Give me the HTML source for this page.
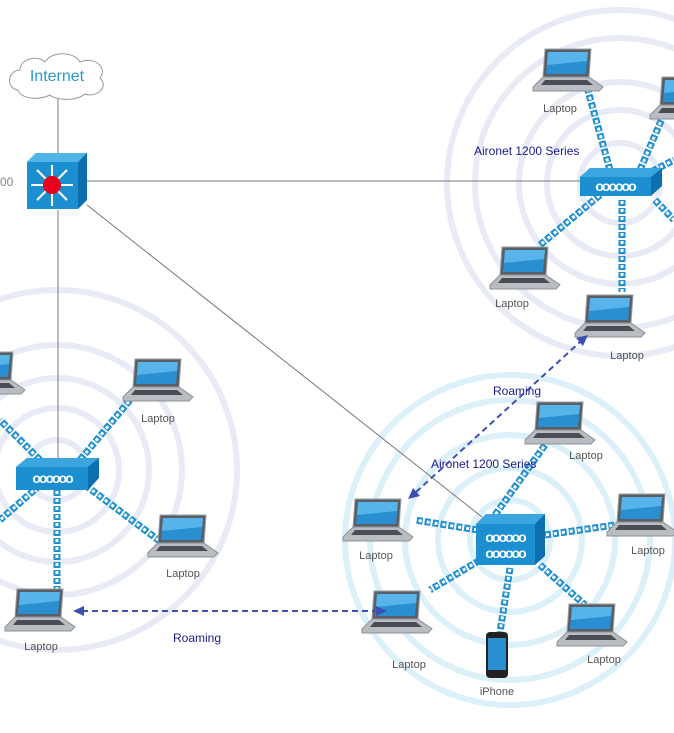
<!DOCTYPE html>
<html><head><meta charset="utf-8"><style>
html,body{margin:0;padding:0;background:#fff;}
svg{display:block;}
text{font-family:"Liberation Sans",sans-serif;}
</style></head><body>
<svg width="674" height="733" viewBox="0 0 674 733" xmlns="http://www.w3.org/2000/svg">
<defs>
<g id="lap">
 <path d="M12 2 L58 2 L56 30 L10 30 Z" fill="#5a5f66" stroke="#9aa0a6" stroke-width="1"/>
 <path d="M15 5 L55 5 L53 27 L13 27 Z" fill="#2a8fd0"/>
 <path d="M15 5 L55 5 L54 14 L14 18 Z" fill="#56b4ea"/>
 <path d="M10 30 L56 30 L70 40 L66 44 L0 44 L0 40 Z" fill="#b9bdc2" stroke="#8d9197" stroke-width="1"/>
 <path d="M12 33 L54 33 L60 38 L8 38 Z" fill="#4a4e54"/>
</g>
<g id="phone">
 <rect x="0" y="0" width="22" height="46" rx="4" fill="#222"/>
 <rect x="2" y="6" width="18" height="32" fill="#2a8fd0"/>
</g>
</defs>

<g fill="none" stroke="#e8ebf6" stroke-width="6">
 <circle cx="620" cy="183" r="40"/><circle cx="620" cy="183" r="73"/><circle cx="620" cy="183" r="101"/><circle cx="620" cy="183" r="145"/><circle cx="620" cy="183" r="173"/>
 <circle cx="57" cy="470" r="30"/><circle cx="57" cy="470" r="62"/><circle cx="57" cy="470" r="92"/><circle cx="57" cy="470" r="125"/><circle cx="57" cy="470" r="180"/>
</g>
<g fill="none" stroke="#dcf0fa" stroke-width="6">
 <circle cx="510" cy="540" r="40"/><circle cx="510" cy="540" r="72"/><circle cx="510" cy="540" r="105"/><circle cx="510" cy="540" r="140"/><circle cx="510" cy="540" r="165"/>
</g>

<g stroke="#777" stroke-width="1">
 <line x1="58" y1="95" x2="58" y2="155"/>
 <line x1="87" y1="181" x2="582" y2="181"/>
 <line x1="58" y1="210" x2="58" y2="460"/>
 <line x1="87" y1="205" x2="482" y2="517"/>
</g>

<g fill="none">
 <g stroke="#1e8fd0" stroke-width="7" stroke-dasharray="6 2">
  <path d="M610 170 L585 80 M640 170 L670 100 M600 195 L540 245 M622 200 L622 292 M655 200 L674 220 M645 175 L674 160"/>
  <path d="M40 460 L0 420 M80 460 L130 400 M40 485 L0 520 M85 485 L165 545 M57 490 L57 590"/>
  <path d="M495 515 L545 445 M478 530 L415 520 M545 535 L615 525 M480 560 L430 590 M510 568 L500 632 M540 565 L585 605"/>
 </g>
 <g stroke="#fff" stroke-width="3" stroke-dasharray="3 5" stroke-dashoffset="-1">
  <path d="M610 170 L585 80 M640 170 L670 100 M600 195 L540 245 M622 200 L622 292 M655 200 L674 220 M645 175 L674 160"/>
  <path d="M40 460 L0 420 M80 460 L130 400 M40 485 L0 520 M85 485 L165 545 M57 490 L57 590"/>
  <path d="M495 515 L545 445 M478 530 L415 520 M545 535 L615 525 M480 560 L430 590 M510 568 L500 632 M540 565 L585 605"/>
 </g>
</g>

<path d="M18 90 C5 88 8 70 20 70 C20 58 38 55 45 62 C52 50 75 52 80 62 C95 56 108 68 100 78 C110 88 95 98 85 94 C75 102 55 100 50 95 C40 100 22 100 18 90 Z" fill="#fff" stroke="#999" stroke-width="1"/>
<text x="57" y="81" font-size="16" fill="#2b9ac9" text-anchor="middle">Internet</text>

<path d="M27 162 L36 153 L87 153 L87 200 L78 209 L27 209 Z" fill="#0d6fae"/>
<rect x="27" y="162" width="51" height="47" fill="#1b8fd0"/>
<path d="M27 162 L36 153 L87 153 L78 162 Z" fill="#4fb4e6"/>
<g stroke="#fff" stroke-width="2">
 <line x1="52" y1="165" x2="52" y2="206"/><line x1="31" y1="185" x2="73" y2="185"/>
 <line x1="37" y1="170" x2="67" y2="200"/><line x1="67" y1="170" x2="37" y2="200"/>
</g>
<circle cx="52" cy="185" r="9" fill="#e8001c"/>
<text x="0" y="186" font-size="12" fill="#888">00</text>

<g>
 <path d="M580 177 L590 168 L662 168 L662 186 L651 196 L580 196 Z" fill="#0d6fae"/>
 <rect x="580" y="177" width="71" height="19" fill="#1b8fd0"/>
 <path d="M580 177 L590 168 L662 168 L651 177 Z" fill="#3aa5de"/>
 <text x="615" y="191" font-size="14" fill="#fff" text-anchor="middle" font-weight="bold" letter-spacing="-2">oooooo</text>
</g>
<g>
 <path d="M16 467 L27 458 L99 458 L99 478 L88 490 L16 490 Z" fill="#0d6fae"/>
 <rect x="16" y="467" width="72" height="23" fill="#1b8fd0"/>
 <path d="M16 467 L27 458 L99 458 L88 467 Z" fill="#3aa5de"/>
 <text x="52" y="483" font-size="14" fill="#fff" text-anchor="middle" font-weight="bold" letter-spacing="-2">oooooo</text>
</g>
<g>
 <path d="M476 524 L486 514 L545 514 L545 556 L535 565 L476 565 Z" fill="#0d6fae"/>
 <rect x="476" y="524" width="59" height="41" fill="#1b8fd0"/>
 <path d="M476 524 L486 514 L545 514 L535 524 Z" fill="#3aa5de"/>
 <text x="505" y="542" font-size="14" fill="#fff" text-anchor="middle" font-weight="bold" letter-spacing="-2">oooooo</text>
 <text x="505" y="558" font-size="14" fill="#fff" text-anchor="middle" font-weight="bold" letter-spacing="-2">oooooo</text>
</g>

<use href="#lap" x="533" y="47"/>
<use href="#lap" x="650" y="75"/>
<use href="#lap" x="490" y="245"/>
<use href="#lap" x="575" y="293"/>
<use href="#lap" x="123" y="357"/>
<use href="#lap" x="148" y="513"/>
<use href="#lap" x="5" y="587"/>
<use href="#lap" x="-45" y="350"/>
<use href="#lap" x="525" y="400"/>
<use href="#lap" x="343" y="497"/>
<use href="#lap" x="607" y="492"/>
<use href="#lap" x="362" y="589"/>
<use href="#lap" x="557" y="602"/>
<use href="#phone" x="486" y="632"/>

<g font-size="11" fill="#555" text-anchor="middle">
 <text x="560" y="112">Laptop</text>
 <text x="512" y="307">Laptop</text>
 <text x="627" y="359">Laptop</text>
 <text x="158" y="422">Laptop</text>
 <text x="183" y="577">Laptop</text>
 <text x="41" y="650">Laptop</text>
 <text x="586" y="459">Laptop</text>
 <text x="376" y="559">Laptop</text>
 <text x="648" y="554">Laptop</text>
 <text x="409" y="668">Laptop</text>
 <text x="604" y="663">Laptop</text>
 <text x="497" y="695">iPhone</text>
</g>
<g font-size="12" fill="#1a1a8c">
 <text x="474" y="155">Aironet 1200 Series</text>
 <text x="431" y="468">Aironet 1200 Series</text>
 <text x="173" y="642">Roaming</text>
 <text x="493" y="395">Roaming</text>
</g>

<g stroke="#3d4fb0" stroke-width="2" stroke-dasharray="6 4" fill="none">
 <line x1="82" y1="611" x2="378" y2="611"/>
 <line x1="416" y1="492" x2="580" y2="342"/>
</g>
<g fill="#3d4fb0">
 <path d="M73 611 L84 606 L84 616 Z"/>
 <path d="M387 611 L376 606 L376 616 Z"/>
 <path d="M408 499 L413 488 L420 496 Z"/>
 <path d="M588 335 L583 346 L576 338 Z"/>
</g>
</svg>
</body></html>
